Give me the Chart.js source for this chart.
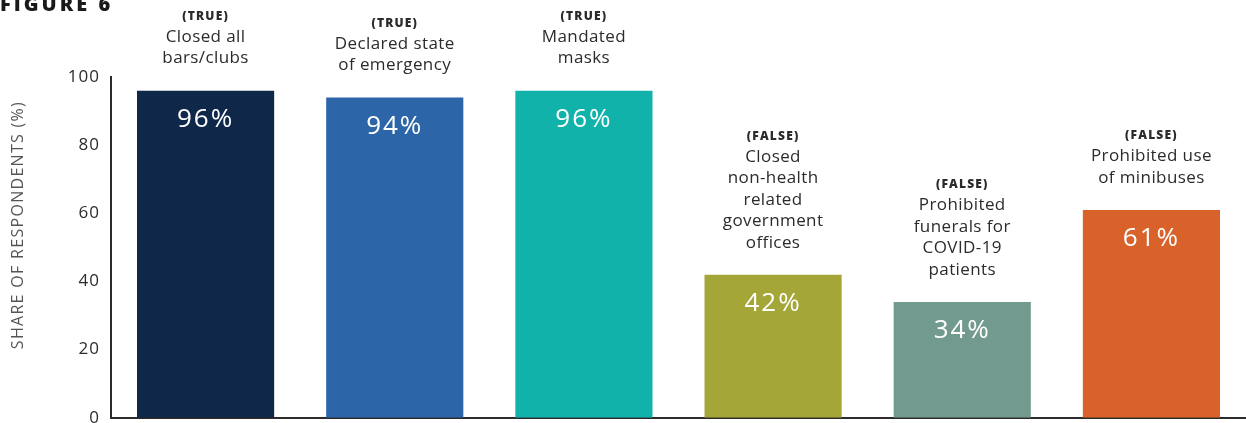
<!DOCTYPE html>
<html>
<head>
<meta charset="utf-8">
<script src="https://cdn.jsdelivr.net/npm/chart.js@4"></script>
<style>
  body { margin: 0; background: #fff; }
  #wrap { position: relative; width: 1246px; height: 423px; overflow: hidden; }
  #fig { position: absolute; left: 0; top: -10px; font: 900 20px "Open Sans", sans-serif; color: #1a1a1a; letter-spacing: 3px; }
</style>
</head>
<body>
<div id="wrap">
  <canvas id="canvas" width="1246" height="431"></canvas>
  <div id="fig">FIGURE 6</div>
</div>
<script>
var categories = [
    ["Closed all", "bars/clubs"],
    ["Declared state", "of emergency"],
    ["Mandated", "masks"],
    ["Closed", "non-health", "related", "government", "offices"],
    ["Prohibited", "funerals for", "COVID-19", "patients"],
    ["Prohibited use", "of minibuses"]
];
var verdicts = ["(TRUE)", "(TRUE)", "(TRUE)", "(FALSE)", "(FALSE)", "(FALSE)"];
var values = [96, 94, 96, 42, 34, 61];
var barColors = ["#0f2749", "#2c65a8", "#11b2aa", "#a5a638", "#739a8e", "#d9622b"];
var yTicks = [0, 20, 40, 60, 80, 100];
var yTitle = "SHARE OF RESPONDENTS (%)";

// wider letter spacing for the tick labels
var spacing = {
    id: 'spacing',
    beforeDraw: function(chart) {
        chart.ctx.letterSpacing = '1px';
    }
};

// labels above the bars, percentages inside them, rotated axis title
var barText = {
    id: 'barText',
    afterDatasetsDraw: function(chart) {
        var ctx = chart.ctx;
        var bars = chart.getDatasetMeta(0).data;
        ctx.save();
        ctx.textAlign = 'center';
        ctx.textBaseline = 'middle';
        bars.forEach(function(bar, i) {
            ctx.fillStyle = '#ffffff';
            ctx.letterSpacing = '2px';
            ctx.font = '26px "Open Sans", sans-serif';
            ctx.fillText(values[i] + '%', bar.x, bar.y + 29);

            var lines = categories[i];
            ctx.fillStyle = '#2b2b2b';
            ctx.letterSpacing = '0.4px';
            ctx.font = '17px "Open Sans", sans-serif';
            for (var k = 0; k < lines.length; k++) {
                var ly = bar.y - 32 - (lines.length - 1 - k) * 21.5;
                ctx.fillText(lines[k], bar.x, ly);
            }
            ctx.letterSpacing = '1.2px';
            ctx.font = '800 12px "Open Sans", sans-serif';
            ctx.fillText(verdicts[i], bar.x, bar.y - 32 - lines.length * 21.5 + 1);
        });

        ctx.translate(18, 225);
        ctx.rotate(-Math.PI / 2);
        ctx.fillStyle = '#555555';
        ctx.letterSpacing = '1.3px';
        ctx.font = '16px "Open Sans", sans-serif';
        ctx.fillText(yTitle, 0, 0);
        ctx.restore();
    }
};

var ctx = document.getElementById('canvas').getContext('2d');
var myChart = new Chart(ctx, {
    type: 'bar',
    data: {
        labels: categories.map(function(c) { return c.join(' '); }),
        datasets: [{
            data: values,
            backgroundColor: barColors,
            borderWidth: 0,
            barPercentage: 0.725,
            categoryPercentage: 1
        }]
    },
    plugins: [spacing, barText],
    options: {
        responsive: false,
        animation: false,
        layout: { padding: { top: 77, right: 0, bottom: 0, left: 0 } },
        plugins: {
            legend: { display: false },
            tooltip: { enabled: false }
        },
        scales: {
            x: {
                grid: { display: false },
                border: { color: '#2b2b2b', width: 2 },
                ticks: { display: false }
            },
            y: {
                min: 0,
                max: 100,
                afterBuildTicks: function(scale) {
                    scale.ticks = yTicks.map(function(v) { return { value: v }; });
                },
                afterFit: function(scale) {
                    scale.width = 111;
                },
                grid: { display: false },
                border: { color: '#2b2b2b', width: 2 },
                ticks: {
                    color: '#2b2b2b',
                    padding: 3,
                    font: { family: 'Open Sans', size: 17 }
                }
            }
        }
    }
});
</script>
</body>
</html>
